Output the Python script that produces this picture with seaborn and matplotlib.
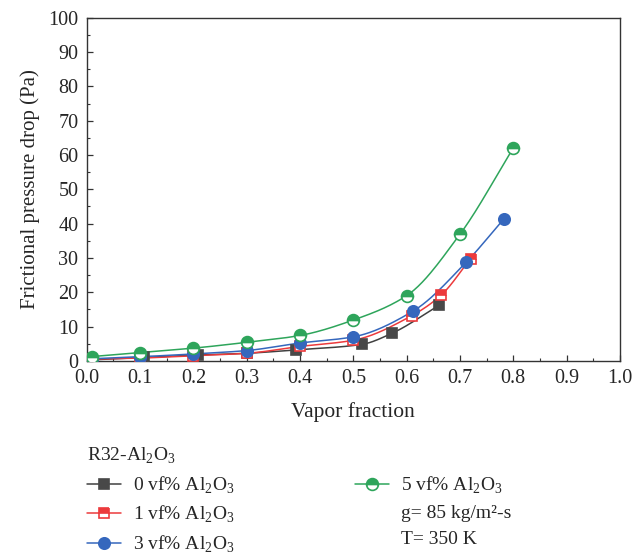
import numpy as np
import pandas as pd
import matplotlib
matplotlib.use("Agg")
import matplotlib.pyplot as plt
import seaborn as sns
from matplotlib.lines import Line2D
from matplotlib.ticker import MultipleLocator

# ---- data ----
x_0 = [0.01, 0.107, 0.209, 0.30, 0.392, 0.516, 0.572, 0.661]
y_0 = [0.3, 1.0, 1.7, 2.2, 3.2, 4.8, 8.0, 16.2]
x_1 = [0.01, 0.10, 0.20, 0.30, 0.40, 0.50, 0.61, 0.665, 0.72]
y_1 = [0.5, 0.8, 1.5, 2.2, 4.2, 6.0, 13.2, 19.2, 29.8]
x_3 = [0.01, 0.10, 0.20, 0.30, 0.40, 0.50, 0.612, 0.712, 0.782]
y_3 = [0.6, 1.2, 2.0, 3.0, 5.2, 7.0, 14.5, 28.8, 41.3]
x_5 = [0.01, 0.10, 0.20, 0.30, 0.40, 0.50, 0.60, 0.70, 0.80]
y_5 = [1.25, 2.4, 3.7, 5.4, 7.4, 11.9, 19.0, 36.9, 62.0]

labels = ["0 vf% Al$_\\mathregular{2}$O$_\\mathregular{3}$",
          "1 vf% Al$_\\mathregular{2}$O$_\\mathregular{3}$",
          "3 vf% Al$_\\mathregular{2}$O$_\\mathregular{3}$",
          "5 vf% Al$_\\mathregular{2}$O$_\\mathregular{3}$"]
legend_title = "R32-Al$_\\mathregular{2}$O$_\\mathregular{3}$"
note_1 = "g= 85 kg/m²-s"
note_2 = "T= 350 K"
x_ticks = [0.0, 0.1, 0.2, 0.3, 0.4, 0.5, 0.6, 0.7, 0.8, 0.9, 1.0]
y_ticks = [0, 10, 20, 30, 40, 50, 60, 70, 80, 90, 100]


def pchip(x, y, xs):
    x = np.asarray(x, float); y = np.asarray(y, float)
    h = np.diff(x); d = np.diff(y) / h
    n = len(x); m = np.zeros(n)
    for k in range(1, n - 1):
        if d[k - 1] * d[k] > 0:
            w1 = 2 * h[k] + h[k - 1]; w2 = h[k] + 2 * h[k - 1]
            m[k] = (w1 + w2) / (w1 / d[k - 1] + w2 / d[k])
    m[0] = d[0]; m[-1] = d[-1]
    idx = np.clip(np.searchsorted(x, xs) - 1, 0, n - 2)
    t = (xs - x[idx]) / h[idx]
    h00 = 2 * t**3 - 3 * t**2 + 1; h10 = t**3 - 2 * t**2 + t
    h01 = -2 * t**3 + 3 * t**2; h11 = t**3 - t**2
    return h00 * y[idx] + h10 * h[idx] * m[idx] + h01 * y[idx + 1] + h11 * h[idx] * m[idx + 1]


sns.set_theme(style="white")
plt.rcParams["font.family"] = ["Liberation Serif", "DejaVu Serif"]
plt.rcParams["mathtext.fontset"] = "custom"
plt.rcParams["mathtext.rm"] = "Liberation Serif"

fig = plt.figure(figsize=(6.43, 5.56), dpi=100)
ax = fig.add_axes([0.135, 0.351, 0.829, 0.617])

series = [
    (x_0, y_0, "#484848", "#404040", "s", "full", 7),
    (x_1, y_1, "#ec3a3c", "#ec3a3c", "s", "top", 7),
    (x_3, y_3, "#3567bd", "#3567bd", "o", "full", 8.2),
    (x_5, y_5, "#2ea55b", "#2ea55b", "o", "top", 8.5),
]
for xs_, ys_, mc, lc, mk, fs, ms in series:
    xx = np.linspace(xs_[0], xs_[-1], 200)
    df_curve = pd.DataFrame({"x": xx, "y": pchip(xs_, ys_, xx)})
    sns.lineplot(data=df_curve, x="x", y="y", ax=ax, color=lc, lw=1.1,
                 estimator=None, sort=False, legend=False)
for xs_, ys_, mc, lc, mk, fs, ms in series:
    df_pts = pd.DataFrame({"x": xs_, "y": ys_})
    sns.lineplot(data=df_pts, x="x", y="y", ax=ax, linestyle="", marker=mk,
                 markersize=ms, color=mc, markerfacecolor=mc,
                 markerfacecoloralt="white", markeredgecolor=mc,
                 markeredgewidth=1.2, fillstyle=fs, estimator=None,
                 legend=False, zorder=5)

ax.set_xlim(0, 1.0)
ax.set_ylim(0, 100)
ax.set_xticks(x_ticks)
ax.set_xticklabels([f"{v:.1f}" for v in x_ticks])
ax.set_yticks(y_ticks)
ax.xaxis.set_minor_locator(MultipleLocator(0.05))
ax.yaxis.set_minor_locator(MultipleLocator(5))
ax.tick_params(axis="both", which="major", direction="in", length=4,
               width=0.9, color="#333333", labelsize=14.5, pad=6,
               bottom=True, left=True, top=False, right=False)
ax.tick_params(axis="both", which="minor", direction="in", length=2.5,
               width=0.8, color="#333333", bottom=True, left=True,
               top=False, right=False)
for s in ax.spines.values():
    s.set_color("#333333")
    s.set_linewidth(1.0)
ax.set_xlabel("Vapor fraction", fontsize=15.5, labelpad=10)
ax.set_ylabel("Frictional pressure drop (Pa)", fontsize=15, labelpad=6)

handles = []
for xs_, ys_, mc, lc, mk, fs, ms in series:
    handles.append(Line2D([], [], color=lc, lw=1.1, marker=mk, markersize=ms,
                          markerfacecolor=mc, markerfacecoloralt="white",
                          markeredgecolor=mc, markeredgewidth=1.2, fillstyle=fs))
blank = Line2D([], [], linestyle="", marker="")
hs = [handles[0], handles[1], handles[2], handles[3], blank, blank]
ls = [labels[0], labels[1], labels[2], labels[3], note_1, note_2]
leg = fig.legend(hs, ls, loc="upper left", bbox_to_anchor=(0.114, 0.222),
                 ncol=2, frameon=False, fontsize=14, title=legend_title,
                 title_fontsize=14, alignment="left", handlelength=1.75,
                 handletextpad=0.62, columnspacing=6.2, labelspacing=0.42,
                 borderpad=0.2)

fig.savefig("out.png", dpi=100)
